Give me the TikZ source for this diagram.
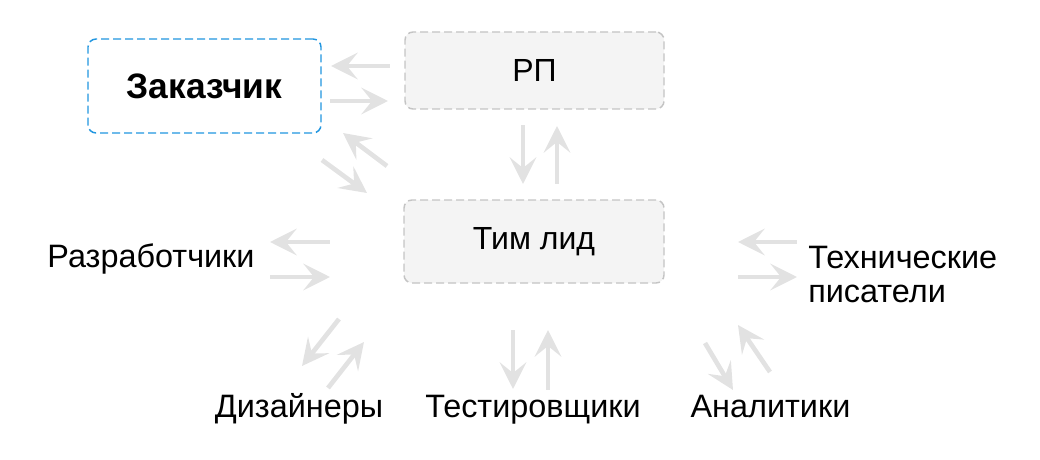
\documentclass[tikz,border=0pt]{standalone}
\usepackage{fontspec}
\setmainfont{Liberation Sans}
\usetikzlibrary{arrows.meta,positioning}
\definecolor{clientblue}{RGB}{33,150,224}
\definecolor{boxgrey}{RGB}{196,196,196}
\definecolor{boxfill}{RGB}{244,244,244}
\definecolor{flowgrey}{RGB}{226,226,226}

\begin{document}
\begin{tikzpicture}[
    x=0.75pt, y=-0.75pt,
    role/.style={rectangle, rounded corners=6pt, line width=1.1pt, dash pattern=on 6pt off 3pt, font=\fontsize{24}{28}\selectfont},
    client/.style={role, draw=clientblue, fill=white, font=\fontsize{26.5}{30}\selectfont\bfseries},
    lead/.style={role, draw=boxgrey, fill=boxfill},
    team/.style={anchor=base, inner sep=0pt, font=\fontsize{24.3}{25.5}\selectfont},
    flow/.style={-{Stealth[length=20pt, width=20pt, inset=8pt]}, line width=3.5pt, draw=flowgrey}
]
\useasboundingbox (0,0) rectangle (1040,460);

% boxes
\node[client, minimum width=174.75pt, minimum height=70.5pt] (client) at (204.5,86) {Заказчик};
\node[lead, minimum width=194.25pt, minimum height=57.75pt] (pm) at (534.5,70.5) {РП};
\node[lead, minimum width=195pt, minimum height=62.25pt] (teamlead) at (534,241.5) {Тим лид};

% team members
\node[team] (devs) at (151,267) {Разработчики};
\node[team, anchor=base west, align=left] (writers) at (808,302) {Технические\\писатели};
\node[team] (designers) at (299,417) {Дизайнеры};
\node[team] (testers) at (533,417) {Тестировщики};
\node[team] (analysts) at (770.5,417) {Аналитики};

% arrow ends
\coordinate (pm-c1) at (390,66);   \coordinate (pm-c2) at (331,66);
\coordinate (c-pm1) at (330,101);  \coordinate (c-pm2) at (388,101);
\coordinate (tl-c1) at (387,166);  \coordinate (tl-c2) at (343,133);
\coordinate (c-tl1) at (322,160);  \coordinate (c-tl2) at (367,193);
\coordinate (pm-tl1) at (523,125); \coordinate (pm-tl2) at (523,184);
\coordinate (tl-pm1) at (557,184); \coordinate (tl-pm2) at (557,126);
\coordinate (tl-d1) at (330,242);  \coordinate (tl-d2) at (270,242);
\coordinate (d-tl1) at (270,277);  \coordinate (d-tl2) at (330,277);
\coordinate (tl-w1) at (797,242);  \coordinate (tl-w2) at (738,242);
\coordinate (w-tl1) at (738,277);  \coordinate (w-tl2) at (797,277);
\coordinate (tl-g1) at (339,319);  \coordinate (tl-g2) at (302,366);
\coordinate (g-tl1) at (328,388);  \coordinate (g-tl2) at (364,342);
\coordinate (tl-t1) at (513,330);  \coordinate (tl-t2) at (513,389);
\coordinate (t-tl1) at (548,390);  \coordinate (t-tl2) at (548,330);
\coordinate (tl-a1) at (705,343);  \coordinate (tl-a2) at (733,390);
\coordinate (a-tl1) at (770,372);  \coordinate (a-tl2) at (738,325);

% arrows
\foreach \a in {pm-c, c-pm, tl-c, c-tl, pm-tl, tl-pm, tl-d, d-tl, tl-w, w-tl, tl-g, g-tl, tl-t, t-tl, tl-a, a-tl}
    \draw[flow] (\a1) -- (\a2);

\end{tikzpicture}
\end{document}
